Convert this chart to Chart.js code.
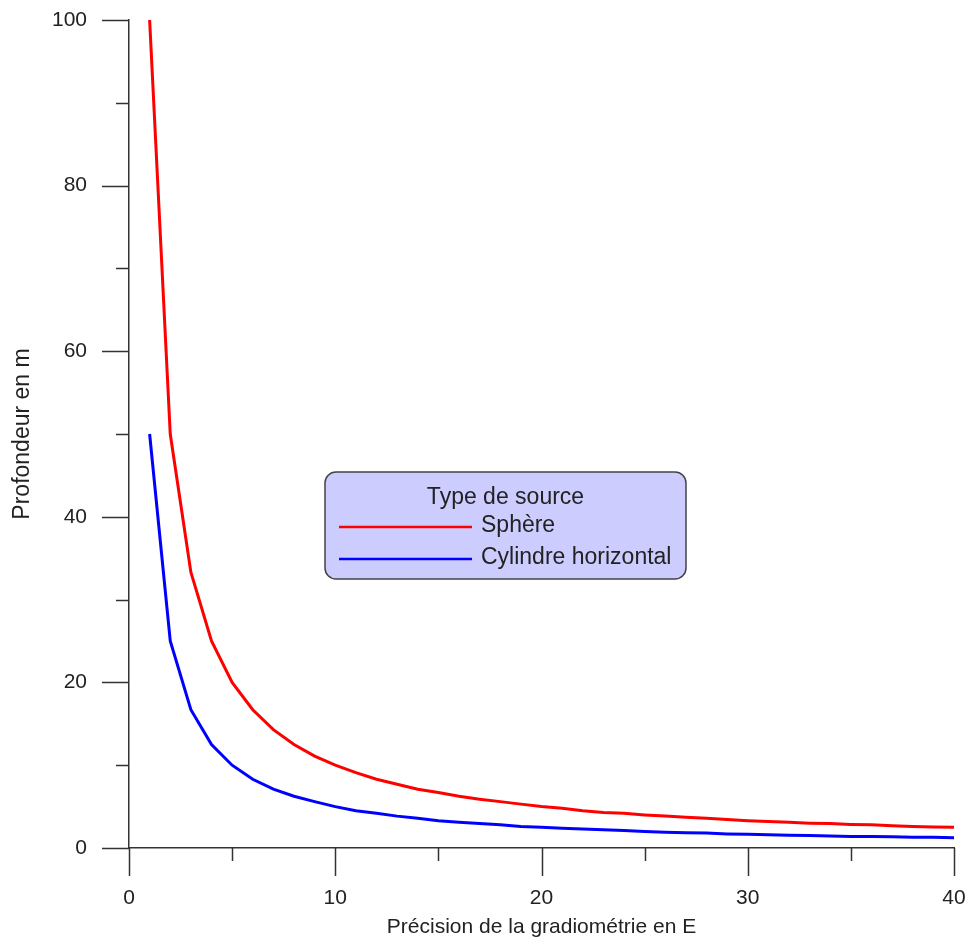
<!DOCTYPE html>
<html>
<head>
<meta charset="utf-8">
<script src="https://cdn.jsdelivr.net/npm/chart.js@4"></script>
<style>
  body { margin: 0; background: #fff; }
  #wrap { width: 972px; height: 941px; }
</style>
</head>
<body>
<div id="wrap"><canvas id="myChart" width="972" height="941"></canvas></div>
<script>
var precision = [1, 2, 3, 4, 5, 6, 7, 8, 9, 10,
    11, 12, 13, 14, 15, 16, 17, 18, 19, 20,
    21, 22, 23, 24, 25, 26, 27, 28, 29, 30,
    31, 32, 33, 34, 35, 36, 37, 38, 39, 40];
var sphere = [100, 50, 33.3, 25, 20, 16.7, 14.3, 12.5, 11.1, 10,
    9.1, 8.3, 7.7, 7.1, 6.7, 6.25, 5.9, 5.6, 5.3, 5,
    4.8, 4.5, 4.3, 4.2, 4, 3.85, 3.7, 3.6, 3.45, 3.3,
    3.2, 3.1, 3.0, 2.95, 2.85, 2.8, 2.7, 2.6, 2.55, 2.5];
var cylindre = [50, 25, 16.7, 12.5, 10, 8.3, 7.1, 6.25, 5.6, 5,
    4.5, 4.2, 3.85, 3.6, 3.3, 3.1, 2.95, 2.8, 2.6, 2.5,
    2.4, 2.3, 2.2, 2.1, 2, 1.9, 1.85, 1.8, 1.7, 1.65,
    1.6, 1.55, 1.5, 1.45, 1.4, 1.4, 1.35, 1.3, 1.3, 1.25];
var legendTitle = 'Type de source';

var FONT = "'Liberation Sans', Arial, sans-serif";
var INK = '#222';

function toPoints(ys) {
    return precision.map(function (x, i) { return { x: x, y: ys[i] }; });
}

// fixed axis box, no extra label padding around the plot
function fixBox(s, size) {
    if (s.isHorizontal()) s.height = size; else s.width = size;
    s.paddingTop = s.paddingBottom = s.paddingLeft = s.paddingRight = 0;
}

// tick marks: long ones on labelled values, short ones between
var tickMarks = {
    id: 'tickMarks',
    afterDraw: function (chart) {
        var ctx = chart.ctx, xs = chart.scales.x, ys = chart.scales.y;
        ctx.save();
        ctx.strokeStyle = '#333';
        ctx.lineWidth = 1.5;
        ctx.beginPath();
        for (var v = 0; v <= 40; v += 5) {
            var px = Math.round(xs.getPixelForValue(v)) + 0.5;
            var len = v % 10 === 0 ? 28 : 13;
            ctx.moveTo(px, ys.bottom);
            ctx.lineTo(px, ys.bottom + len);
        }
        for (var w = 0; w <= 100; w += 10) {
            var py = Math.round(ys.getPixelForValue(w)) + 0.5;
            var l2 = w % 20 === 0 ? 27 : 13;
            ctx.moveTo(xs.left, py);
            ctx.lineTo(xs.left - l2, py);
        }
        ctx.stroke();
        ctx.restore();
    }
};

// boxed legend inside the plot
var boxLegend = {
    id: 'boxLegend',
    afterDraw: function (chart) {
        var ctx = chart.ctx, a = chart.chartArea;
        var bx = a.left + 196, by = a.top + 452, bw = 361, bh = 107, r = 11;
        ctx.save();
        ctx.beginPath();
        ctx.moveTo(bx + r, by);
        ctx.arcTo(bx + bw, by, bx + bw, by + bh, r);
        ctx.arcTo(bx + bw, by + bh, bx, by + bh, r);
        ctx.arcTo(bx, by + bh, bx, by, r);
        ctx.arcTo(bx, by, bx + bw, by, r);
        ctx.closePath();
        ctx.fillStyle = '#ccccff';
        ctx.fill();
        ctx.strokeStyle = '#444';
        ctx.lineWidth = 1.5;
        ctx.stroke();

        ctx.font = '23px ' + FONT;
        ctx.fillStyle = INK;
        ctx.textBaseline = 'middle';
        ctx.textAlign = 'center';
        ctx.fillText(legendTitle, bx + bw / 2, by + 26);
        ctx.textAlign = 'left';
        chart.data.datasets.forEach(function (ds, i) {
            var y = by + 55 + i * 32;
            ctx.strokeStyle = ds.borderColor;
            ctx.lineWidth = 2.5;
            ctx.beginPath();
            ctx.moveTo(bx + 14, y);
            ctx.lineTo(bx + 147, y);
            ctx.stroke();
            ctx.fillText(ds.label, bx + 156, y - 1);
        });
        ctx.restore();
    }
};

var chart = new Chart(document.getElementById('myChart'), {
    type: 'line',
    data: {
        datasets: [{
            label: 'Sphère',
            data: toPoints(sphere),
            borderColor: '#ff0000',
            borderWidth: 3,
            pointRadius: 0,
            tension: 0
        }, {
            label: 'Cylindre horizontal',
            data: toPoints(cylindre),
            borderColor: '#0000ff',
            borderWidth: 3,
            pointRadius: 0,
            tension: 0
        }]
    },
    options: {
        responsive: false,
        animation: false,
        layout: { padding: { left: 0, right: 18, top: 20, bottom: 0 } },
        plugins: {
            legend: { display: false },
            tooltip: { enabled: false }
        },
        scales: {
            x: {
                type: 'linear',
                min: 0,
                max: 40,
                afterFit: function (s) { fixBox(s, 93); },
                grid: { display: false, drawTicks: false },
                border: { display: true, color: '#333', width: 1.5 },
                ticks: {
                    stepSize: 10,
                    padding: 38,
                    color: INK,
                    font: { family: FONT, size: 21 }
                },
                title: {
                    display: true,
                    text: 'Précision de la gradiométrie en E',
                    color: INK,
                    padding: { top: 0, bottom: 1 },
                    font: { family: FONT, size: 21 }
                }
            },
            y: {
                min: 0,
                max: 100,
                afterFit: function (s) { fixBox(s, 129); },
                grid: { display: false, drawTicks: false },
                border: { display: true, color: '#333', width: 1.5 },
                ticks: {
                    stepSize: 20,
                    padding: 42,
                    color: INK,
                    font: { family: FONT, size: 21 }
                },
                title: {
                    display: true,
                    text: 'Profondeur en m',
                    color: INK,
                    padding: { top: 9, bottom: 0 },
                    font: { family: FONT, size: 23 }
                }
            }
        }
    },
    plugins: [tickMarks, boxLegend]
});
</script>
</body>
</html>
